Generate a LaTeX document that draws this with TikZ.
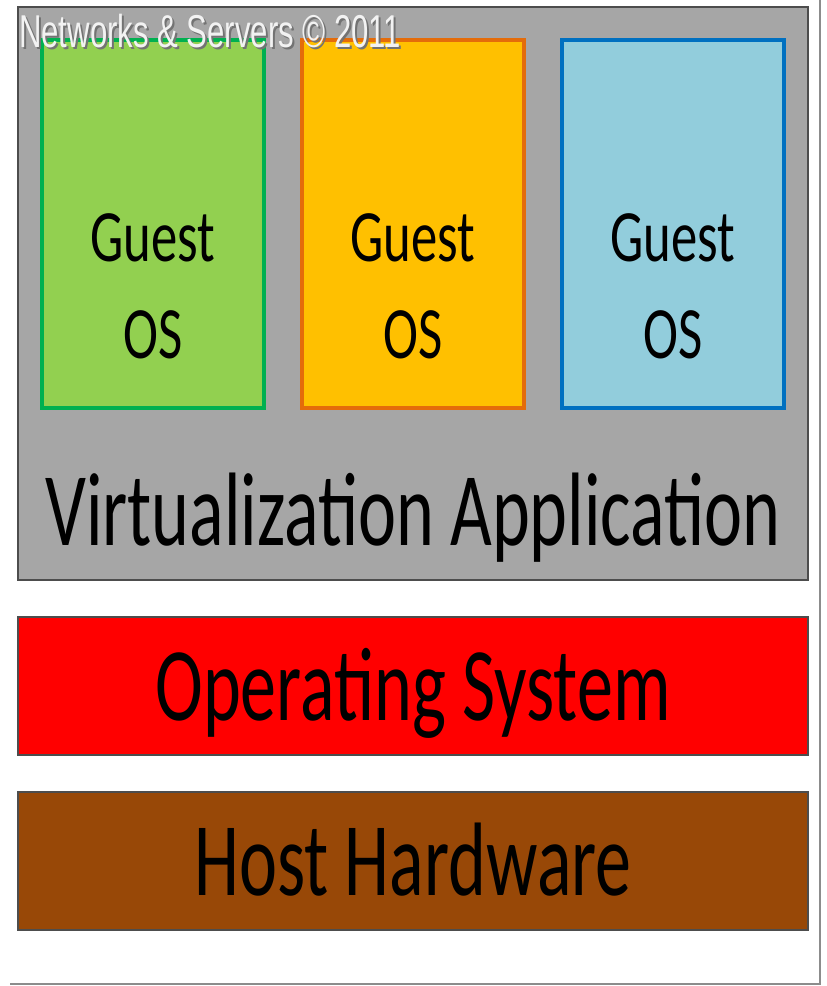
\documentclass[tikz,border=0pt]{standalone}
\usepackage{fontspec}
\setmainfont{Carlito}
\newfontfamily\markfont{Liberation Sans}
\usepackage{graphicx}
\definecolor{appgray}{HTML}{A6A6A6}
\definecolor{framegray}{HTML}{4D4D4D}
\definecolor{greenfill}{HTML}{92D050}
\definecolor{greenline}{HTML}{00B050}
\definecolor{orangefill}{HTML}{FFC000}
\definecolor{orangeline}{HTML}{E46C0A}
\definecolor{bluefill}{HTML}{92CDDC}
\definecolor{blueline}{HTML}{0070C0}
\definecolor{osred}{HTML}{FF0000}
\definecolor{hwbrown}{HTML}{984807}
\newcommand{\tallt}[2]{\scalebox{1}[#1]{#2}}
\begin{document}
\begin{tikzpicture}[x=0.02cm,y=-0.02cm]
        \tikzstyle{layer}=[rectangle,draw=framegray,line width=1.2pt,minimum width=15.8cm,inner sep=0pt]
        \tikzstyle{guest}=[rectangle,line width=2.2pt,minimum width=4.43cm,minimum height=7.35cm,inner sep=0pt]
        \tikzstyle{guesttext}=[anchor=base,inner sep=0pt,font=\fontsize{30}{36}\selectfont]
        \tikzstyle{bigtext}=[anchor=base,inner sep=0pt,font=\fontsize{41}{48}\selectfont]
        \useasboundingbox (0,0) rectangle (826,986);
        % screenshot frame
        \draw[black!45,line width=0.8pt] (820,0) -- (820,984) -- (10,984);
        % layers
        \node [layer,fill=appgray,minimum height=11.46cm] (app) at (413,293.5) {};
        \node [layer,fill=osred,minimum height=2.76cm] (os) at (413,686) {};
        \node [layer,fill=hwbrown,minimum height=2.76cm] (hw) at (413,861) {};
        % guests
        \node [guest,fill=greenfill,draw=greenline] (g1) at (153,224) {};
        \node [guest,fill=orangefill,draw=orangeline] (g2) at (413,224) {};
        \node [guest,fill=bluefill,draw=blueline] (g3) at (673,224) {};
        \node [guesttext] (t1a) at (153,262) {\tallt{1.4}{Guest}};
        \node [guesttext] (t1b) at (153,358) {\tallt{1.4}{OS}};
        \node [guesttext] (t2a) at (413,262) {\tallt{1.4}{Guest}};
        \node [guesttext] (t2b) at (413,358) {\tallt{1.4}{OS}};
        \node [guesttext] (t3a) at (673,262) {\tallt{1.4}{Guest}};
        \node [guesttext] (t3b) at (673,358) {\tallt{1.4}{OS}};
        % labels
        \node [bigtext] (tapp) at (413,545) {\tallt{1.45}{Virtualization Application}};
        \node [bigtext] (tos) at (413,720) {\tallt{1.45}{Operating System}};
        \node [bigtext] (thw) at (413,895) {\tallt{1.45}{Host Hardware}};
        % watermark
        \node [anchor=west,text=black!55,font=\markfont\fontsize{17.7}{20}\selectfont] (wms) at (15,33) {\tallt{1.48}{Networks \& Servers \textcopyright\ 2011}};
        \node [anchor=west,text=black!5,font=\markfont\fontsize{17.7}{20}\selectfont] (wm) at (13,31) {\tallt{1.48}{Networks \& Servers \textcopyright\ 2011}};
\end{tikzpicture}
\end{document}
